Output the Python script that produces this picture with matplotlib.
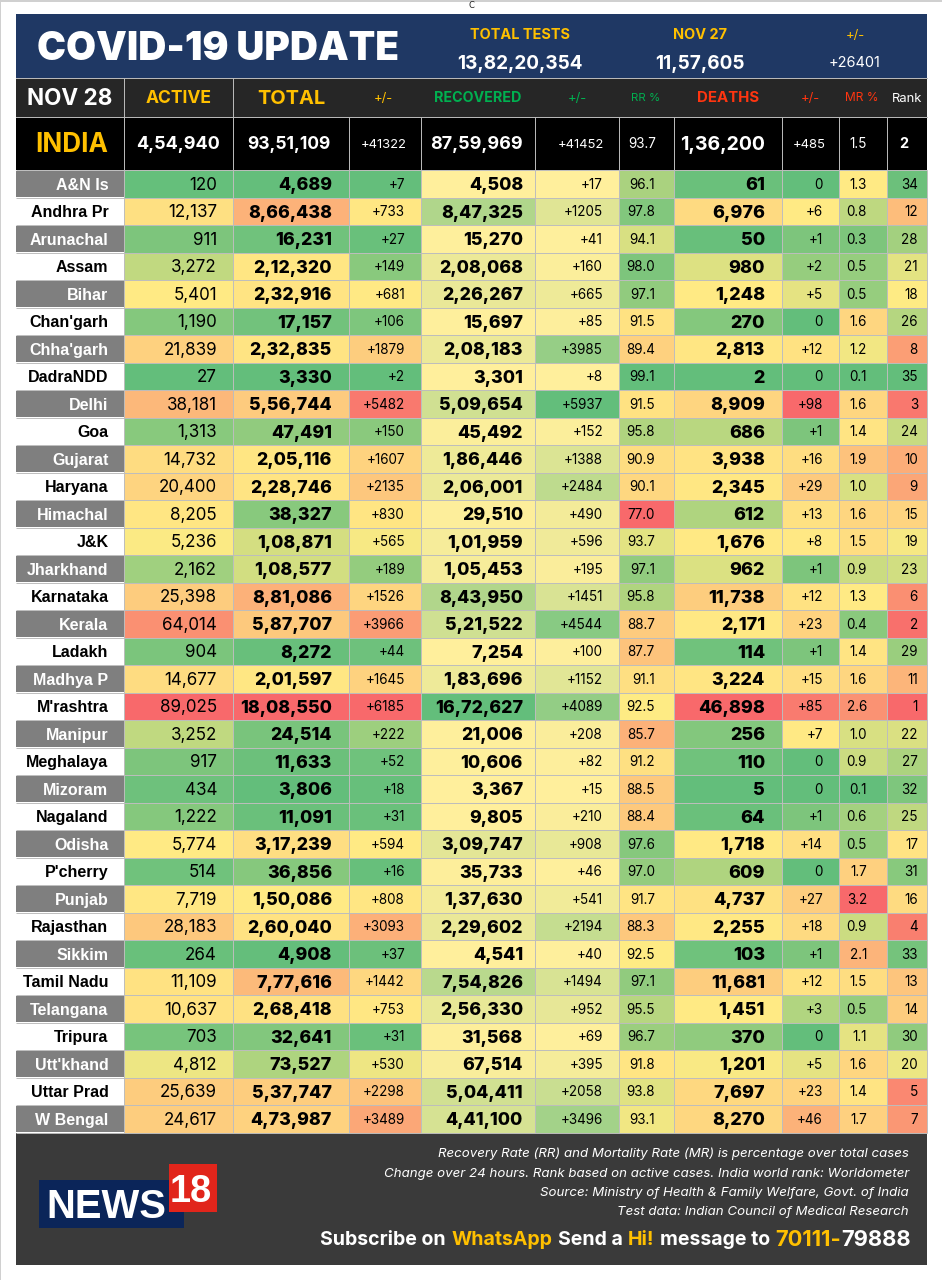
import numpy as np
import matplotlib
matplotlib.use("Agg")
import matplotlib.pyplot as plt
from matplotlib.colors import LinearSegmentedColormap, TwoSlopeNorm, Normalize
from matplotlib.patches import Rectangle

# ------------- data -------------
states = ["A&N Is","Andhra Pr","Arunachal","Assam","Bihar","Chan'garh","Chha'garh","DadraNDD","Delhi","Goa","Gujarat","Haryana","Himachal","J&K","Jharkhand","Karnataka","Kerala","Ladakh","Madhya P","M'rashtra","Manipur","Meghalaya","Mizoram","Nagaland","Odisha","P'cherry","Punjab","Rajasthan","Sikkim","Tamil Nadu","Telangana","Tripura","Utt'khand","Uttar Prad","W Bengal"]
active = [120,12137,911,3272,5401,1190,21839,27,38181,1313,14732,20400,8205,5236,2162,25398,64014,904,14677,89025,3252,917,434,1222,5774,514,7719,28183,264,11109,10637,703,4812,25639,24617]
total = [4689,866438,16231,212320,232916,17157,232835,3330,556744,47491,205116,228746,38327,108871,108577,881086,587707,8272,201597,1808550,24514,11633,3806,11091,317239,36856,150086,260040,4908,777616,268418,32641,73527,537747,473987]
total_chg = [7,733,27,149,681,106,1879,2,5482,150,1607,2135,830,565,189,1526,3966,44,1645,6185,222,52,18,31,594,16,808,3093,37,1442,753,31,530,2298,3489]
recovered = [4508,847325,15270,208068,226267,15697,208183,3301,509654,45492,186446,206001,29510,101959,105453,843950,521522,7254,183696,1672627,21006,10606,3367,9805,309747,35733,137630,229602,4541,754826,256330,31568,67514,504411,441100]
recovered_chg = [17,1205,41,160,665,85,3985,8,5937,152,1388,2484,490,596,195,1451,4544,100,1152,4089,208,82,15,210,908,46,541,2194,40,1494,952,69,395,2058,3496]
rr = [96.1,97.8,94.1,98.0,97.1,91.5,89.4,99.1,91.5,95.8,90.9,90.1,77.0,93.7,97.1,95.8,88.7,87.7,91.1,92.5,85.7,91.2,88.5,88.4,97.6,97.0,91.7,88.3,92.5,97.1,95.5,96.7,91.8,93.8,93.1]
deaths = [61,6976,50,980,1248,270,2813,2,8909,686,3938,2345,612,1676,962,11738,2171,114,3224,46898,256,110,5,64,1718,609,4737,2255,103,11681,1451,370,1201,7697,8270]
deaths_chg = [0,6,1,2,5,0,12,0,98,1,16,29,13,8,1,12,23,1,15,85,7,0,0,1,14,0,27,18,1,12,3,0,5,23,46]
mr = [1.3,0.8,0.3,0.5,0.5,1.6,1.2,0.1,1.6,1.4,1.9,1.0,1.6,1.5,0.9,1.3,0.4,1.4,1.6,2.6,1.0,0.9,0.1,0.6,0.5,1.7,3.2,0.9,2.1,1.5,0.5,1.1,1.6,1.4,1.7]
rank = [34,12,28,21,18,26,8,35,3,24,10,9,15,19,23,6,2,29,11,1,22,27,32,25,17,31,16,4,33,13,14,30,20,5,7]

india_date = "NOV 28"
india_values = ["4,54,940","93,51,109","+41322","87,59,969","+41452","93.7","1,36,200","+485","1.5","2"]
tests_labels = ["TOTAL TESTS","NOV 27","+/-"]
tests_values = ["13,82,20,354","11,57,605","+26401"]
col_headers = ["ACTIVE","TOTAL","+/-","RECOVERED","+/-","RR %","DEATHS","+/-","MR %","Rank"]
notes = ["Recovery Rate (RR) and Mortality Rate (MR) is percentage over total cases",
         "Change over 24 hours. Rank based on active cases. India world rank: Worldometer",
         "Source: Ministry of Health & Family Welfare, Govt. of India",
         "Test data: Indian Council of Medical Research"]

# ------------- layout (pixels) -------------
W, H = 942, 1280
L, R = 15.5, 927
col_x = [L,124,233,348.5,420.7,535.3,618.6,674.4,781.7,839.3,886.7,R]
TITLE_T, TITLE_B, HEAD_B, INDIA_B, BODY_B, FOOT_B = 14, 78, 116.5, 170, 1132.5, 1264.5
FONT = "Inter"
NAVY, HEAD, FOOT = "#1f3864", "#262626", "#3a3a3a"
YEL, GRN, RED = "#ffc000", "#00b050", "#ff3510"
LINE = "#bdbdbd"

plt.rcParams["font.family"] = [FONT, "DejaVu Sans"]
fig = plt.figure(figsize=(W/100, H/100), dpi=100, facecolor="white")
ax = fig.add_axes([0,0,1,1])
ax.set_xlim(0, W); ax.set_ylim(H, 0); ax.axis("off")

def txt(x, yc, s, px, color="black", ha="right", weight="normal", style="normal", family=None):
    """text with its cap-height centred on yc; px = font size in pixels"""
    return ax.text(x, yc + 0.36*px, s, fontsize=px*0.72, color=color, ha=ha, va="baseline",
                   fontweight=weight, fontstyle=style, family=family or [FONT, "DejaVu Sans"])

def inr(n):
    s = str(n)
    if len(s) <= 3: return s
    head, tail = s[:-3], s[-3:]
    parts = []
    while len(head) > 2:
        parts.insert(0, head[-2:]); head = head[:-2]
    if head: parts.insert(0, head)
    return ",".join(parts + [tail])
def chg(n): return f"+{n}" if n else "0"
def one(v): return f"{v:.1f}"

# page frame
ax.add_patch(Rectangle((0,0), W, 1.5, color="#d0d0d0", lw=0))
ax.add_patch(Rectangle((0,0), 1.2, H, color="#d0d0d0", lw=0))
ax.text(471, 5, "C", fontsize=6, ha="center", va="center", color="#222222", family="DejaVu Sans")

# bands
ax.add_patch(Rectangle((L,TITLE_T), R-L, TITLE_B-TITLE_T, color=NAVY, lw=0))
ax.add_patch(Rectangle((L,TITLE_B), R-L, HEAD_B-TITLE_B, color=HEAD, lw=0))
ax.add_patch(Rectangle((L,HEAD_B), R-L, INDIA_B-HEAD_B, color="black", lw=0))
ax.add_patch(Rectangle((L,BODY_B), R-L, FOOT_B-BODY_B, color=FOOT, lw=0))
ax.plot([L,R],[TITLE_B,TITLE_B], color=LINE, lw=0.7)
ax.plot([L,R],[HEAD_B,HEAD_B], color=LINE, lw=0.7)
for x in col_x[1:3]:
    ax.plot([x,x],[TITLE_B,HEAD_B], color=LINE, lw=0.7)
for x in col_x[1:-1]:
    ax.plot([x,x],[HEAD_B,INDIA_B], color=LINE, lw=0.7)

# title
txt(37, 46, "COVID-19 UPDATE", 38.7, "white", "left", "black")
for cx, lab, val, w in zip([520,700,855], tests_labels, tests_values, ["bold","bold","normal"]):
    txt(cx, 34, lab, 14.5 if w=="bold" else 13, YEL, "center", "bold" if w=="bold" else "normal")
    txt(cx, 62, val, 19 if w=="bold" else 14.5, "white", "center", w)

# header
txt(70, 97, india_date, 22.5, "white", "center", "bold")
head_x = [178.5,291.5,383,478,577,646,728,810,862,907.5]
head_c = [YEL,YEL,YEL,GRN,GRN,GRN,RED,RED,RED,"white"]
head_s = [17.5,20,13,14.3,13,11.5,15,13,12,13]
head_w = ["bold","bold","normal","bold","normal","normal","bold","normal","normal","normal"]
for x,s,c,p,w in zip(head_x,col_headers,head_c,head_s,head_w):
    txt(x, 97, s, p, c, "center", w)

# India row
txt(72, 143, "INDIA", 26, YEL, "center", "bold")
india_x = [220,331,407,523,604,656,765,826,867,904]
india_p = [18,17.5,13,18,13,13.5,19.5,13,13.5,14.5]
india_w = ["bold","bold","normal","bold","normal","normal","bold","normal","normal","bold"]
for x,s,p,w in zip(india_x,india_values,india_p,india_w):
    txt(x, 143, s, p, "white", "right" if s!="2" else "center", w)

# colour scales (Excel style 3-colour and 2-colour conditional formats)
g, y, r = "#63be7b", "#ffeb84", "#f8696b"
low_good = LinearSegmentedColormap.from_list("gyr", [g,y,r])
high_good = LinearSegmentedColormap.from_list("ryg", [r,y,g])
rising = LinearSegmentedColormap.from_list("yg", ["#ffef9c",g])
def tri(v): return TwoSlopeNorm(vmin=min(v), vcenter=float(np.median(v)), vmax=max(v))
columns = [active,total,total_chg,recovered,recovered_chg,rr,deaths,deaths_chg,mr,rank]
cmaps = [low_good,low_good,low_good,rising,rising,high_good,low_good,low_good,low_good,high_good]
norms = [tri(active),tri(total),tri(total_chg),Normalize(min(recovered),max(recovered)),
         Normalize(min(recovered_chg),max(recovered_chg)),tri(rr),tri(deaths),tri(deaths_chg),tri(mr),tri(rank)]

n = len(states)
row_y = np.linspace(INDIA_B, BODY_B, n+1)
rgb = np.stack([cm(nm(np.array(c,float)))[:,:3] for c,cm,nm in zip(columns,cmaps,norms)], axis=1)
ax.pcolormesh(col_x[1:], row_y, rgb)
ax.hlines(row_y, L, R, color=LINE, lw=0.7)
ax.vlines(col_x[1:], INDIA_B, BODY_B, color=LINE, lw=0.7)

# state names
for i,s in enumerate(states):
    odd = i%2==0
    ax.add_patch(Rectangle((L,row_y[i]+0.5), col_x[1]-L-0.5, row_y[i+1]-row_y[i]-1,
                           facecolor="#7f7f7f" if odd else "white", lw=0))
    txt(108.5, (row_y[i]+row_y[i+1])/2, s, 16, "white" if odd else "black", "right", "bold",
        family="Liberation Sans")

# body
fmts = [inr,inr,chg,inr,chg,one,inr,chg,one,str]
body_x = [217,332,405,523,603,655,765,823,867,918]
body_p = [17,17.8,13.5,17.8,13.5,13.5,18,13.5,13.5,13.5]
body_w = ["normal","heavy","normal","heavy","normal","normal","heavy","normal","normal","normal"]
for vals,f,x,p,w in zip(columns,fmts,body_x,body_p,body_w):
    for i,v in enumerate(vals):
        txt(x, (row_y[i]+row_y[i+1])/2, f(v), p, "black", "right", w)

# footer notes
for yc,s in zip([1152,1172,1191,1210.5], notes):
    txt(909, yc, s, 13.3, "white", "right", "normal", "italic")

# subscribe line, assembled from the right
fig.canvas.draw()
rend = fig.canvas.get_renderer()
x = 911
segments = [("79888","white",22,"bold"),("70111-",YEL,22,"bold"),("message to","white",19.5,"bold"),
            ("Hi!",YEL,19.5,"bold"),("Send a","white",19.5,"bold"),("WhatsApp",YEL,19.5,"bold"),("Subscribe on","white",19.5,"bold")]
for k,(s,c,p,w) in enumerate(segments):
    t = txt(x, 1238, s, p, c, "right", w)
    x = t.get_window_extent(rend).x0 - (0 if k==0 else 5.5)

# logo
ax.add_patch(Rectangle((38.5,1180), 145, 48, color="#0b2559", lw=0))
ax.add_patch(Rectangle((169,1164), 48, 48, color="#e1251b", lw=0))
txt(46, 1204, "NEWS", 40, "white", "left", "black", family="Liberation Sans")
txt(191, 1188, "18", 38, "white", "center", "bold", family="Liberation Sans")

fig.savefig("out.png", dpi=100, facecolor="white")
